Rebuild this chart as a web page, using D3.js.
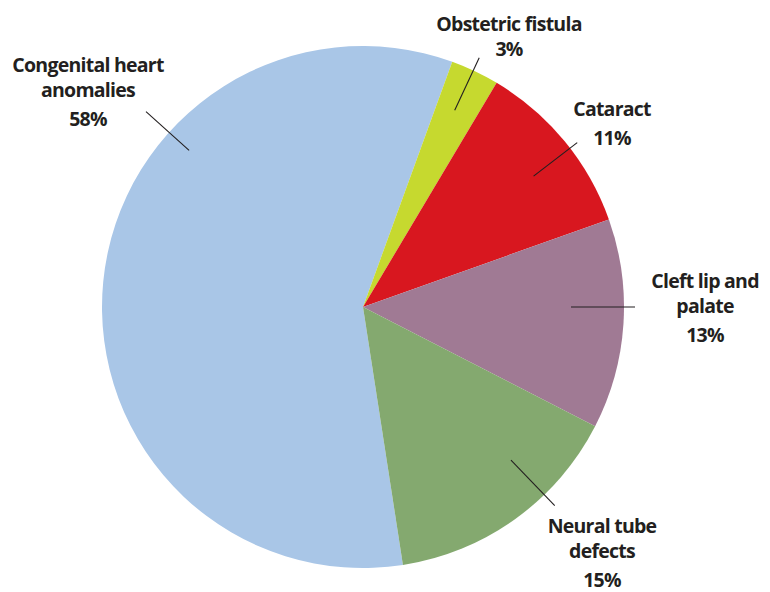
<!DOCTYPE html>
<html>
<head>
<meta charset="utf-8">
<script src="https://cdn.jsdelivr.net/npm/d3@7"></script>
<style>
  body { margin: 0; background: #fff; }
  text { font-family: "Open Sans", sans-serif; font-weight: bold; fill: #231f20; }
</style>
</head>
<body>
<div id="chart-area"></div>
<script>
// data
var categories = ["Congenital heart anomalies", "Obstetric fistula", "Cataract", "Cleft lip and palate", "Neural tube defects"];
var values = [58, 3, 11, 13, 15];
var labelLines = [["Congenital heart", "anomalies"], ["Obstetric fistula"], ["Cataract"], ["Cleft lip and", "palate"], ["Neural tube", "defects"]];
var colors = ["#a9c6e7", "#c6d92f", "#d8171f", "#a07a94", "#84a96f"];

// label placement (layout only)
var labelPos = [[88, 72], [509, 31], [612, 116], [705, 288], [602, 533]];
var leaderAngle = [312, 25, 52.5, 90, 136];
var leaderInner = [234, 217, 215, 208, 213];
var leaderOuter = [292, 275, 270, 272, 276];

var width = 770, height = 592;
var cx = 363, cy = 307, radius = 261;

var svg = d3.select("#chart-area")
    .append("svg")
        .attr("width", width)
        .attr("height", height);

var g = svg.append("g")
    .attr("transform", "translate(" + cx + "," + cy + ")");

var start = 171.2 * Math.PI / 180;

var pie = d3.pie()
    .sort(null)
    .value(function(d) { return d; })
    .startAngle(start)
    .endAngle(start + 2 * Math.PI);

var arc = d3.arc()
    .innerRadius(0)
    .outerRadius(radius);

g.selectAll("path")
    .data(pie(values))
    .enter()
    .append("path")
        .attr("d", arc)
        .attr("fill", function(d, i) { return colors[i]; });

// leader lines
var rad = d3.scaleLinear().domain([0, 360]).range([0, 2 * Math.PI]);
leaderAngle.forEach(function(a, i) {
    var t = rad(a);
    g.append("line")
        .attr("x1", Math.sin(t) * leaderInner[i])
        .attr("y1", -Math.cos(t) * leaderInner[i])
        .attr("x2", Math.sin(t) * leaderOuter[i])
        .attr("y2", -Math.cos(t) * leaderOuter[i])
        .attr("stroke", "#231f20")
        .attr("stroke-width", 1.1);
});

// labels
categories.forEach(function(c, i) {
    var t = svg.append("text")
        .attr("x", labelPos[i][0])
        .attr("y", labelPos[i][1])
        .attr("text-anchor", "middle")
        .attr("font-size", "19.5px")
        .attr("letter-spacing", "-0.75px");
    var lines = labelLines[i].concat([values[i] + "%"]);
    lines.forEach(function(l, j) {
        var dy = 0;
        if (j > 0) dy = (j === lines.length - 1) ? 29 : 25;
        if (i === 1 && j > 0) dy = 25;
        t.append("tspan")
            .attr("x", labelPos[i][0])
            .attr("dy", dy)
            .text(l);
    });
});
</script>
</body>
</html>
